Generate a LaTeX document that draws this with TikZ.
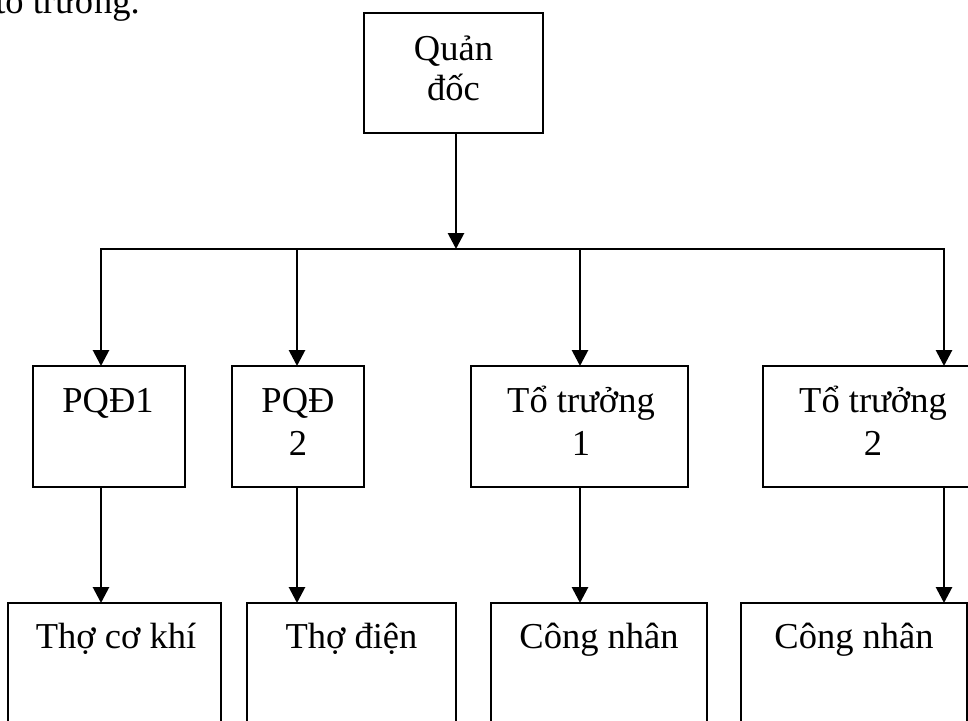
\documentclass[tikz,border=0pt]{standalone}
\usepackage{fontspec}
\setmainfont{Liberation Serif}
\usetikzlibrary{arrows.meta}
\begin{document}
\begin{tikzpicture}[x=1pt,y=-1pt,
  box/.style={draw,line width=2pt,rectangle,inner sep=0pt,outer sep=0pt},
  lbl/.style={anchor=base,inner sep=0pt,font=\fontsize{36.5}{41}\selectfont},
  arr/.style={line width=2.8pt,-{Triangle[width=16pt,length=16pt]}},
  bus/.style={line width=2.8pt}]
\useasboundingbox (0,0) rectangle (968,720);
% top text (cut off at the page edge, as in the reference)
\node[lbl,anchor=base east] (intro) at (140,13) {tổ trưởng.};
% boxes
\node[box,minimum width=179pt,minimum height=120pt] (q) at (453.5,73) {};
\node[box,minimum width=152pt,minimum height=121pt] (p1) at (109,426.5) {};
\node[box,minimum width=132pt,minimum height=121pt] (p2) at (298,426.5) {};
\node[box,minimum width=217pt,minimum height=121pt] (t1) at (579.5,426.5) {};
\node[box,minimum width=220pt,minimum height=121pt] (t2) at (873,426.5) {};
\node[box,minimum width=213pt,minimum height=150pt] (c1) at (114.5,678) {};
\node[box,minimum width=209pt,minimum height=150pt] (c2) at (351.5,678) {};
\node[box,minimum width=216pt,minimum height=150pt] (c3) at (599,678) {};
\node[box,minimum width=226pt,minimum height=150pt] (c4) at (854,678) {};
% labels
\node[lbl] (qa) at (453.5,60) {Quản};
\node[lbl] (qb) at (453.5,100) {đốc};
\node[lbl] (p1a) at (108,412) {PQĐ1};
\node[lbl] (p2a) at (298,412) {PQĐ};
\node[lbl] (p2b) at (298,455) {2};
\node[lbl] (t1a) at (581,412) {Tổ trưởng};
\node[lbl] (t1b) at (581,455) {1};
\node[lbl] (t2a) at (873,412) {Tổ trưởng};
\node[lbl] (t2b) at (873,455) {2};
\node[lbl] (c1a) at (116,648) {Thợ cơ khí};
\node[lbl] (c2a) at (351.5,648) {Thợ điện};
\node[lbl] (c3a) at (599,648) {Công nhân};
\node[lbl] (c4a) at (854,648) {Công nhân};
% bus
\coordinate (hub) at (456,249);
\coordinate (b1) at (101,249);
\coordinate (b2) at (297,249);
\coordinate (b3) at (580,249);
\coordinate (b4) at (944,249);
\draw[arr] (hub |- q.south) -- (hub);
\draw[bus,line cap=rect] (b1) -- (b4);
\draw[arr] (b1) -- (b1 |- p1.north);
\draw[arr] (b2) -- (b2 |- p2.north);
\draw[arr] (b3) -- (b3 |- t1.north);
\draw[arr] (b4) -- (b4 |- t2.north);
\draw[arr] (b1 |- p1.south) -- (b1 |- c1.north);
\draw[arr] (b2 |- p2.south) -- (b2 |- c2.north);
\draw[arr] (b3 |- t1.south) -- (b3 |- c3.north);
\draw[arr] (b4 |- t2.south) -- (b4 |- c4.north);
\end{tikzpicture}
\end{document}
